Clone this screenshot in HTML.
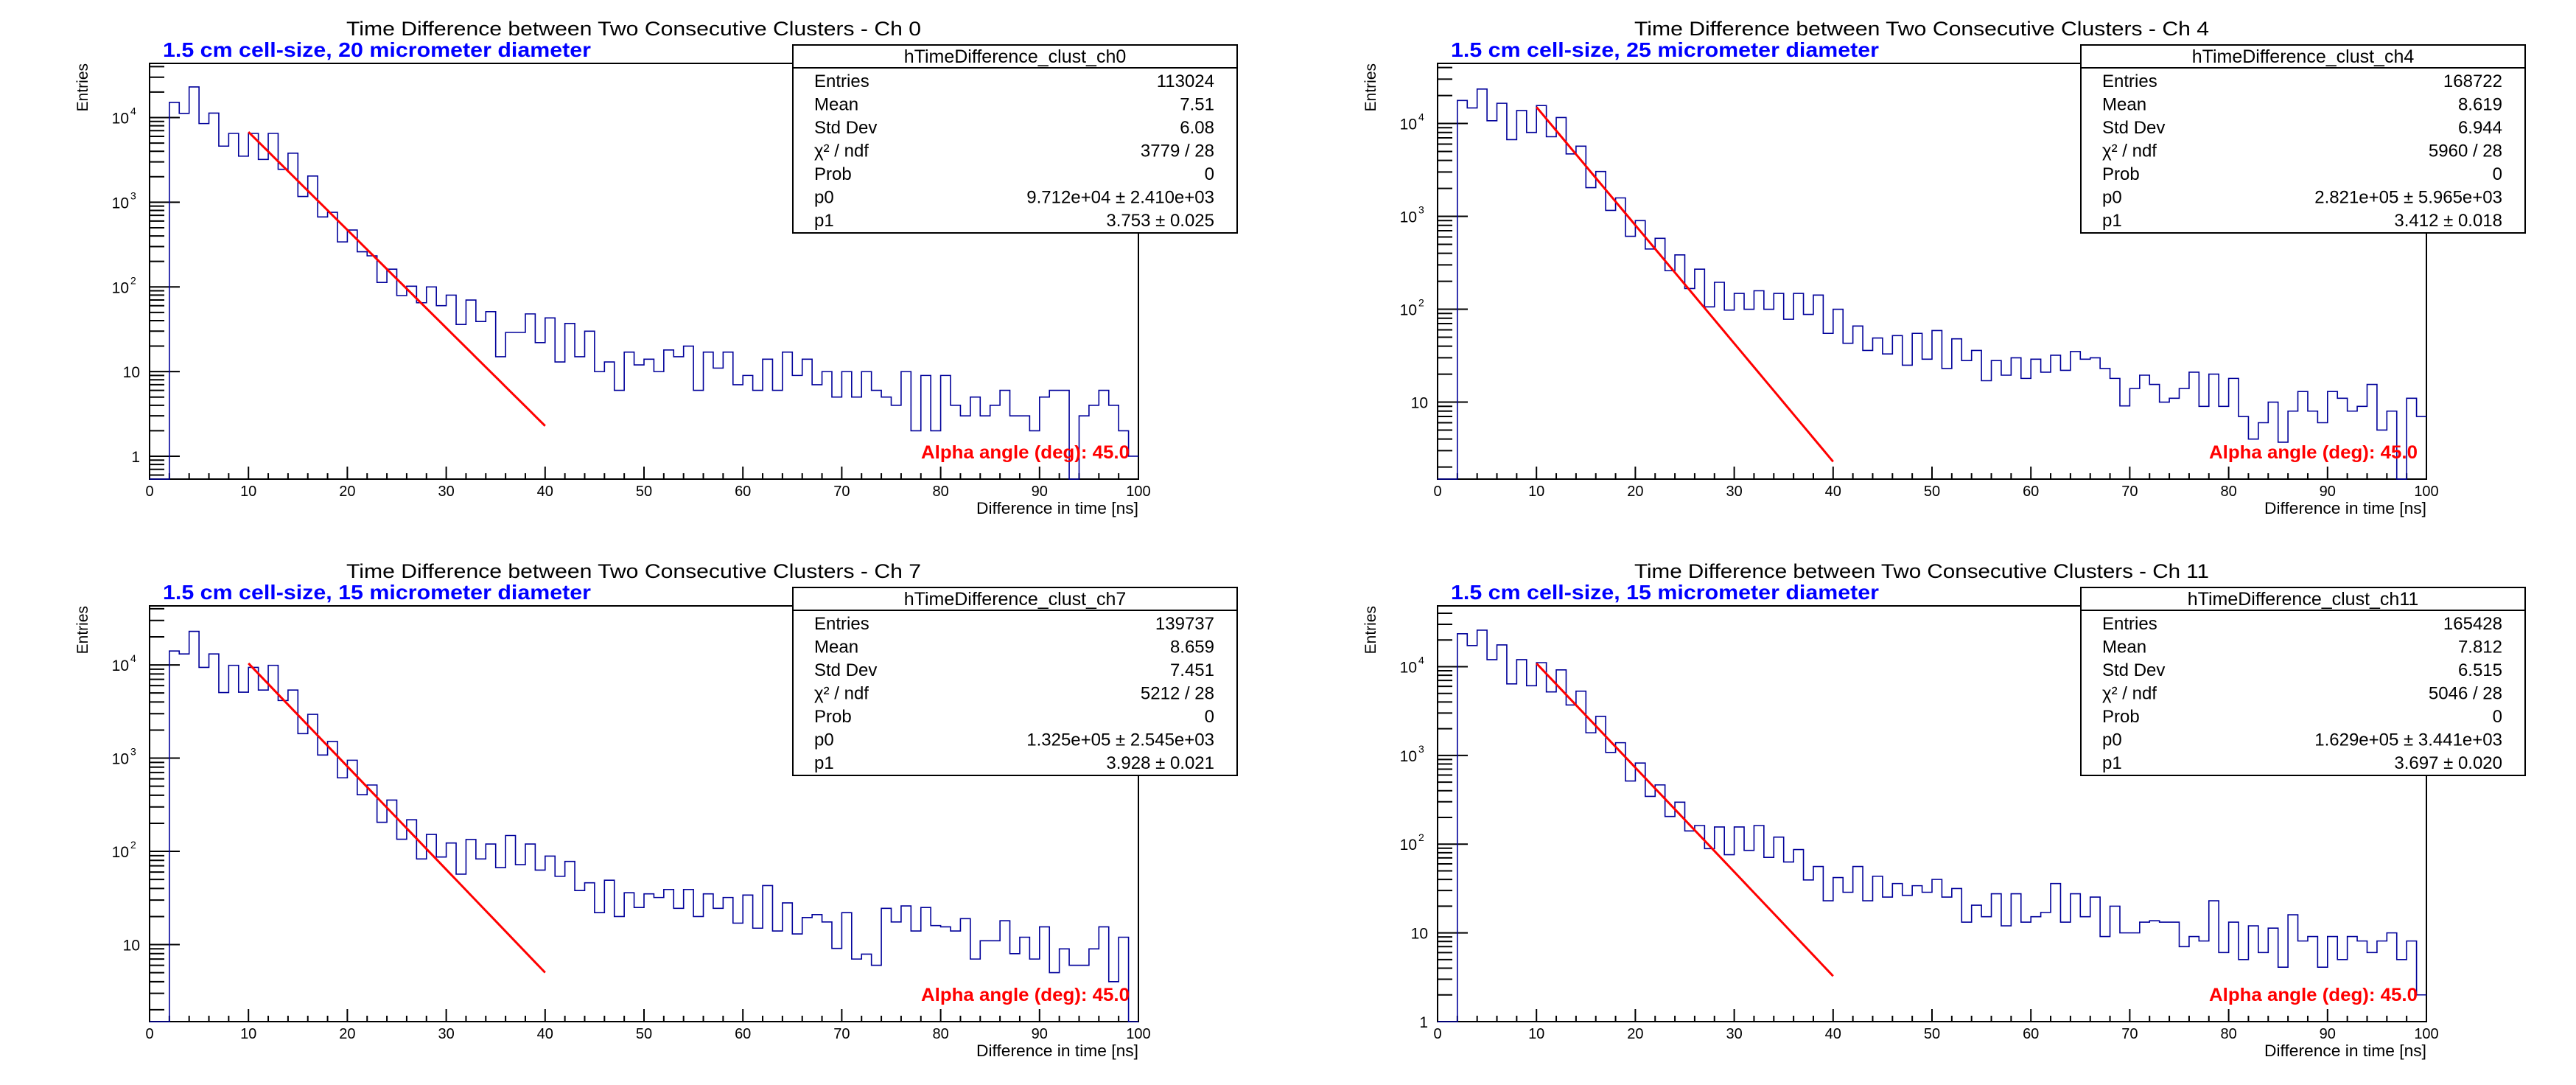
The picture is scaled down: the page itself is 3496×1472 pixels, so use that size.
<!DOCTYPE html>
<html><head><meta charset="utf-8">
<style>
html,body{margin:0;padding:0;background:#fff;}
svg{display:block;font-family:"Liberation Sans",Arial,sans-serif;}
</style></head>
<body>
<svg id="root" xmlns="http://www.w3.org/2000/svg" width="3496" height="1472" viewBox="0 0 3496 1472">
<rect x="0" y="0" width="3496" height="1472" fill="#fff"/>
</svg>
<script>
// ---- data ----
const binEdges = [0, 100];
const ch0Values = [0,0,15100,11200,23000,8500,11300,4600,6500,3500, 6500,3200,6500,2450,3800,1170,2040,670,760,340, 470,260,233,113,162,79,102,65,100,60, 80,36,70,39,51,15,29,29,48,22, 43,13,37,15,30,10,13,6,17,12, 14,10,18,15,20,6,17,11,17,7, 9,6,14,6,17,9,14,7,10,5, 10,5,10,6,5,4,10,2,9,2, 9,4,3,5,3,4,6,3,3,2, 5,6,6,0,3,4,6,4,2,1];
const ch4Values = [0,0,17700,14700,23500,10700,16500,6700,13800,8000, 15600,7200,11600,4700,5700,2040,3040,1160,1580,610, 900,445,580,260,385,167,270,106,195,98, 148,100,158,100,148,78,148,88,142,55, 100,43,66,36,49,33,52,25,55,29, 59,23,48,28,36,17,28,19.5,30,18, 29,21,32,22,35,29,30,23,18,9.1, 14,19.5,15.5,10,11,14,21,9,20,9, 18,7,4,6,10,3.7,8,13,8,6, 13,11,8,9,15.5,5,8,1,11,7];
const ch7Values = [0,0,14100,13100,22900,9400,13100,5050,9900,5100, 9400,5370,9900,4150,5370,1830,2950,1080,1510,615, 950,405,515,205,355,135,218,83,152,87, 123,57,134,83,120,67,148,72,120,63, 89,54,78,38,46,22,49,20,36,25, 35,32,39,24.5,39,20,35,24.5,32,17, 34,15,43,14,28,13,19.5,21,17.5,9.1, 22,7,7.9,6,24.5,17.5,26,14,25,16, 15.5,14,19,7,11,11,18,8,12,7, 15.5,5,9,6,6,9,15.5,4,12,1];
const ch11Values = [0,0,23500,17300,25800,12000,17600,6400,12000,6100, 11100,5200,9200,3700,5300,1800,2750,1080,1390,515, 820,345,465,205,297,141,162,89,156,76, 156,85,162,71,120,63,87,39.5,56,23, 42,28.7,56,23,43.5,25.3,36,26.5,34,28.7, 40,25.3,31.6,13.2,20.5,15.2,27.6,12,27.6,13.2, 15.2,17,36,13.2,27.6,15.2,25.3,9.1,20,10, 10,13.2,13.7,13.2,13.2,7,9.1,8.1,23,6, 13.2,5,12,6,11.3,4.1,16,8.1,9.1,4.1, 9.1,5,9.1,8.1,6,8.1,10,5,8.1,2];
const channels = ["0","4","7","11"];
const subtitles = ["1.5 cm cell-size, 20 micrometer diameter","1.5 cm cell-size, 25 micrometer diameter","1.5 cm cell-size, 15 micrometer diameter","1.5 cm cell-size, 15 micrometer diameter"];
const entries = ["113024","168722","139737","165428"];
const means = ["7.51","8.619","8.659","7.812"];
const stdDevs = ["6.08","6.944","7.451","6.515"];
const chi2 = ["3779 / 28","5960 / 28","5212 / 28","5046 / 28"];
const p0Text = ["9.712e+04 \u00b1 2.410e+03","2.821e+05 \u00b1 5.965e+03","1.325e+05 \u00b1 2.545e+03","1.629e+05 \u00b1 3.441e+03"];
const p1Text = ["3.753 \u00b1 0.025","3.412 \u00b1 0.018","3.928 \u00b1 0.021","3.697 \u00b1 0.020"];
const p0Vals = [97120, 282100, 132500, 162900];
const p1Vals = [3.753, 3.412, 3.928, 3.697];
const fitRange = [10, 40];
const yLogMin = [-0.27, 0.171, 0.174, 0.0];
const yLogMax = [4.64, 4.647, 4.633, 4.685];
const xTicks = [0,10,20,30,40,50,60,70,80,90,100];
const allValues = [ch0Values, ch4Values, ch7Values, ch11Values];

// ---- drawing ----
const NS = "http://www.w3.org/2000/svg";
const root = document.getElementById("root");
function mk(tag, attrs, parent){
  const e = document.createElementNS(NS, tag);
  for (const k in attrs) e.setAttribute(k, attrs[k]);
  (parent||root).appendChild(e);
  return e;
}
const L=203, R=1545, T=86, B=650;

for (let p=0; p<4; p++){
  const ox = (p%2)*1748, oy = Math.floor(p/2)*736;
  const g = mk("g", {transform:`translate(${ox},${oy})`});
  
  
  const lmin = yLogMin[p], lmax = yLogMax[p];
  const xs = v => L + (v - binEdges[0])/(binEdges[1]-binEdges[0])*(R-L);
  const ys = v => {
    let lv = v>0 ? Math.log10(v) : lmin;
    if (lv < lmin) lv = lmin;
    if (lv > lmax) lv = lmax;
    return B - (lv - lmin)/(lmax-lmin)*(B-T);
  };

  const title = mk("text", {x:860, y:48, "font-size":27, "text-anchor":"middle", fill:"#000", textLength:780, lengthAdjust:"spacingAndGlyphs"}, g);
  title.textContent = "Time Difference between Two Consecutive Clusters - Ch " + channels[p];
  
  

  const sub = mk("text", {x:221, y:77, "font-size":28, "font-weight":"bold", fill:"#0000ff", textLength:581, lengthAdjust:"spacingAndGlyphs"}, g);
  sub.textContent = subtitles[p];
  
  

  const frame = mk("rect", {x:L, y:T, width:R-L, height:B-T, fill:"none", stroke:"#000", "stroke-width":2}, g);
  
  

  const yAxis = mk("g", {}, g);
  
  
  for (let d=Math.floor(lmin)-1; d<=Math.ceil(lmax); d++){
    for (let m=1; m<10; m++){
      const lv = d + Math.log10(m);
      if (lv < lmin-1e-6 || lv > lmax+1e-6) continue;
      const y = B - (lv - lmin)/(lmax-lmin)*(B-T);
      const len = m===1 ? 41 : 20;
      mk("line", {x1:L, y1:y, x2:L+len, y2:y, stroke:"#000", "stroke-width":2}, yAxis);
      if (m===1){
        const t = mk("text", {x:d>=2?175:190, y:y+8, "font-size":21, "text-anchor":"end", fill:"#000"}, yAxis);
        
        
        if (d===0) t.textContent = "1";
        else if (d===1) t.textContent = "10";
        else {
          t.textContent = "10";
          const s = mk("text", {x:177, y:y-4, "font-size":14, fill:"#000"}, yAxis);
          s.textContent = String(d);
          
          
        }
      }
    }
  }
  const yt = mk("text", {x:0, y:0, "font-size":21, "text-anchor":"end", fill:"#000", transform:`translate(119,86) rotate(-90)`}, g);
  yt.textContent = "Entries";
  
  

  const xAxis = mk("g", {}, g);
  
  
  for (let v=0; v<=100; v+=2){
    const x = xs(v);
    const major = v%10===0;
    mk("line", {x1:x, y1:B, x2:x, y2:B-(major?17:8), stroke:"#000", "stroke-width":2}, xAxis);
  }
  xTicks.forEach(v=>{
    const t = mk("text", {x:xs(v), y:673, "font-size":20, "text-anchor":"middle", fill:"#000"}, xAxis);
    t.textContent = String(v);
    
    
  });
  const xt = mk("text", {x:R, y:697, "font-size":22, "text-anchor":"end", fill:"#000", textLength:220, lengthAdjust:"spacingAndGlyphs"}, g);
  xt.textContent = "Difference in time [ns]";
  
  

  const vals = allValues[p];
  const bw = (binEdges[1]-binEdges[0])/vals.length;
  let d = `M${xs(0)},${B}`;
  vals.forEach((v,i)=>{
    const y = ys(v);
    d += ` L${xs(i*bw)},${y} L${xs((i+1)*bw)},${y}`;
  });
  const hist = mk("path", {d:d, fill:"none", stroke:"#00009a", "stroke-width":1.6}, g);
  
  

  let fd = "";
  for (let k=0; k<=60; k++){
    const xv = fitRange[0] + (fitRange[1]-fitRange[0])*k/60;
    const fv = p0Vals[p]*Math.exp(-xv/p1Vals[p]);
    fd += (k?" L":"M") + xs(xv) + "," + ys(fv);
  }
  const fit = mk("path", {d:fd, fill:"none", stroke:"#ff0000", "stroke-width":3}, g);
  
  

  const al = mk("text", {x:1250, y:622, "font-size":25, "font-weight":"bold", fill:"#ff0000", textLength:283, lengthAdjust:"spacingAndGlyphs"}, g);
  al.textContent = "Alpha angle (deg): 45.0";
  
  

  const sb = mk("g", {}, g);
  
  
  mk("rect", {x:1076, y:61, width:603, height:255, fill:"#fff", stroke:"#000", "stroke-width":2}, sb);
  mk("line", {x1:1076, y1:92, x2:1679, y2:92, stroke:"#000", "stroke-width":2}, sb);
  const hd = mk("text", {x:1377.5, y:85, "font-size":25, "text-anchor":"middle", fill:"#000"}, sb);
  hd.textContent = "hTimeDifference_clust_ch" + channels[p];
  
  
  const labels = ["Entries","Mean","Std Dev","\u03c7\u00b2 / ndf","Prob","p0","p1"];
  const values = [entries[p], means[p], stdDevs[p], chi2[p], "0", p0Text[p], p1Text[p]];
  labels.forEach((lb,i)=>{
    const y = 118 + i*31.5;
    const a = mk("text", {x:1105, y:y, "font-size":24, fill:"#000"}, sb);
    a.textContent = lb;
    
    
    const b = mk("text", {x:1648, y:y, "font-size":24, "text-anchor":"end", fill:"#000"}, sb);
    b.textContent = values[i];
    
    
  });
}
</script>
</body></html>
